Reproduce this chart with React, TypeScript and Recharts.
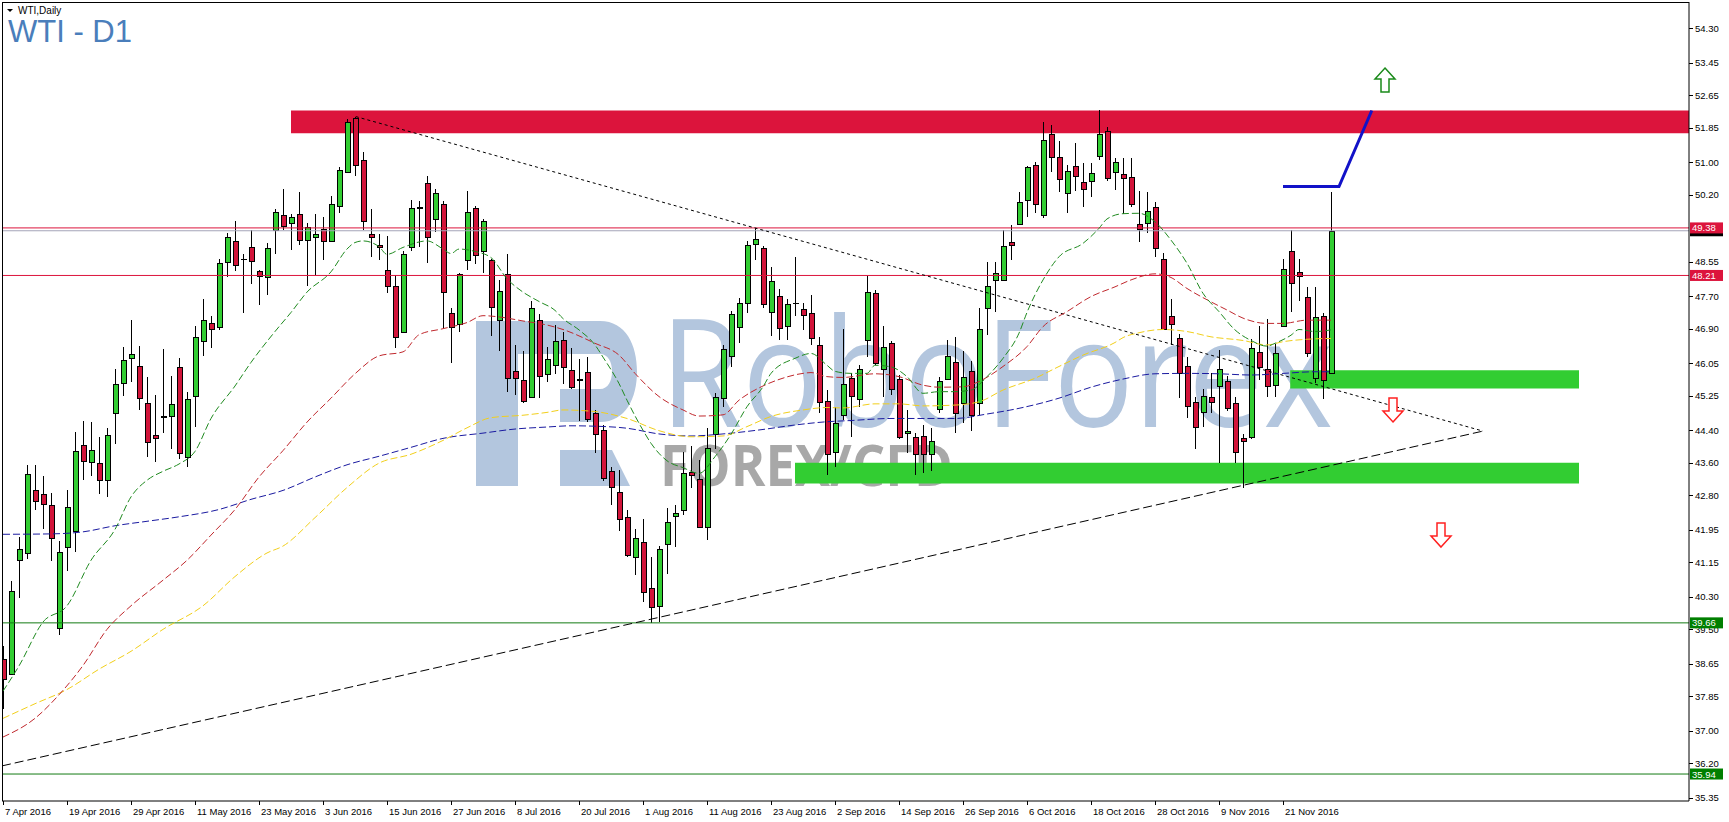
import React from "react";
import {
  ComposedChart,
  Bar,
  Line,
  XAxis,
  YAxis,
  ReferenceLine,
  ReferenceArea,
  ReferenceDot,
} from "recharts";

// daily bars, 7 Apr 2016 .. 30 Nov 2016 (index = bar number)
const opens = [
  38.78, 38.41, 41.2, 41.38, 42.92, 42.83, 42.56, 39.54, 41.53, 41.91,
  44.04, 43.63, 43.59, 43.17, 44.82, 45.56, 46.18, 45.98, 45.07, 44.28,
  44.74, 44.75, 45.95, 43.75, 45.24, 46.59, 47.04, 46.95, 48.53, 49.07,
  48.62, 48.91, 48.32, 48.17, 49.34, 49.7, 49.51, 49.73, 49.09, 49.15,
  49.36, 49.06, 49.92, 50.76, 52.08, 51.06, 49.23, 48.97, 48.34, 47.95,
  46.81, 48.92, 49.9, 50.48, 49.6, 49.98, 47.29, 47.02, 48.58, 49.88,
  48.8, 48.58, 47.12, 48.24, 45.86, 45.64, 45.22, 47.12, 45.79, 46.01,
  46.62, 45.88, 45.63, 45.83, 44.82, 44.41, 43.4, 42.89, 42.27, 41.27,
  41.66, 40.51, 40.08, 41.59, 42.29, 42.45, 43.38, 43.19, 42.03, 44.32,
  45.19, 46.23, 46.93, 47.54, 48.99, 48.88, 47.31, 47.71, 46.97, 47.54,
  47.38, 47.28, 46.49, 45.13, 43.87, 44.78, 45.68, 45.16, 46.62, 47.79,
  45.9, 46.54, 45.65, 44.33, 44.23, 44.27, 43.81, 44.92, 45.65, 46.09,
  45.06, 45.87, 45.06, 47.4, 48.1, 48.1, 49.04, 49.48, 50.07, 50.94,
  49.7, 51.69, 51.13, 50.25, 50.91, 50.5, 50.53, 51.15, 51.77, 50.76,
  50.7, 50.64, 49.47, 49.49, 49.9, 48.61, 47.2, 46.66, 45.99, 45.1,
  44.84, 45.23, 45.5, 45.62, 45.06, 44.22, 44.24, 46.32, 45.92, 45.51,
  46.97, 48.8, 48.3, 47.67, 45.68, 47.22, 45.8,
];
const highs = [
  39.1, 40.69, 41.78, 43.54, 43.54, 43.28, 42.85, 41.67, 42.94, 44.35,
  44.64, 44.61, 44.24, 44.46, 45.92, 46.45, 47.12, 46.47, 45.71, 45.27,
  46.4, 45.74, 46.18, 45.33, 46.97, 47.62, 47.22, 48.62, 49.26, 49.56,
  48.75, 49.34, 48.35, 49.01, 49.85, 50.33, 49.73, 50.27, 49.51, 49.73,
  49.66, 50.17, 50.89, 52.06, 52.12, 51.24, 49.84, 49.22, 49.19, 48.23,
  48.8, 50.06, 50.05, 50.65, 50.33, 50.05, 47.42, 48.26, 50.29, 49.92,
  49.61, 48.62, 48.11, 48.73, 46.49, 46.36, 47.57, 47.26, 46.44, 47.0,
  46.83, 46.42, 46.15, 46.2, 44.9, 44.53, 43.49, 43.42, 42.45, 41.96,
  42.21, 41.27, 41.56, 42.48, 42.56, 43.87, 44.01, 43.67, 44.45, 45.32,
  46.5, 47.34, 47.65, 49.06, 49.39, 48.94, 48.41, 47.87, 47.63, 48.66,
  47.52, 47.73, 46.7, 45.38, 44.98, 46.88, 45.82, 46.01, 48.2, 47.84,
  46.97, 46.6, 45.76, 44.91, 44.33, 44.53, 44.45, 45.7, 46.62, 46.69,
  46.34, 46.11, 47.4, 48.55, 48.55, 49.33, 49.45, 50.27, 50.9, 51.01,
  51.99, 51.91, 51.53, 50.93, 51.46, 50.97, 50.97, 52.28, 51.86, 51.09,
  51.09, 51.09, 50.29, 50.26, 50.03, 48.77, 47.62, 46.76, 46.21, 45.23,
  45.41, 45.8, 46.38, 45.73, 45.21, 44.31, 46.64, 46.97, 47.13, 46.52,
  48.61, 49.34, 48.61, 47.93, 47.92, 47.29, 50.27,
];
const lows = [
  37.53, 38.38, 40.26, 41.22, 42.43, 41.98, 41.18, 39.37, 40.93, 41.4,
  43.17, 43.27, 42.83, 42.76, 44.06, 45.25, 45.58, 44.89, 43.75, 43.61,
  44.33, 43.93, 43.7, 43.5, 44.49, 46.22, 46.42, 46.86, 48.17, 48.31,
  47.28, 47.99, 47.48, 47.74, 48.75, 49.33, 48.84, 48.95, 47.95, 48.21,
  48.58, 49.03, 49.75, 50.72, 50.66, 49.34, 48.66, 48.58, 47.78, 46.43,
  46.79, 48.82, 48.92, 48.52, 49.27, 46.92, 46.05, 46.81, 48.34, 48.5,
  48.26, 46.73, 46.36, 45.35, 45.28, 45.06, 45.19, 45.19, 45.58, 45.78,
  45.54, 45.41, 44.64, 44.61, 43.85, 43.14, 42.56, 41.91, 41.29, 40.84,
  40.18, 39.65, 39.69, 40.86, 41.52, 42.32, 42.99, 41.99, 41.7, 43.93,
  44.98, 45.95, 46.54, 47.29, 48.59, 47.42, 46.72, 46.62, 46.62, 47.21,
  46.87, 46.5, 44.82, 43.3, 43.5, 44.65, 44.24, 44.98, 46.21, 46.01,
  45.21, 45.27, 44.18, 43.85, 43.3, 43.35, 43.4, 44.82, 45.64, 44.34,
  44.59, 44.38, 44.78, 46.75, 47.32, 48.08, 48.59, 49.48, 49.66, 49.74,
  49.62, 50.76, 50.27, 49.74, 50.3, 49.89, 50.13, 51.05, 50.54, 50.31,
  49.72, 49.89, 49.04, 49.26, 48.66, 46.87, 46.5, 45.19, 44.69, 43.93,
  44.47, 44.83, 43.59, 44.88, 43.6, 42.97, 44.18, 45.64, 45.23, 45.23,
  46.93, 47.32, 47.59, 46.21, 45.57, 45.16, 45.79,
];
const closes = [
  38.29, 40.44, 41.49, 43.33, 42.67, 42.58, 41.75, 41.4, 42.51, 43.9,
  43.64, 43.92, 43.17, 44.28, 45.54, 46.12, 46.28, 45.2, 44.12, 44.21,
  44.73, 45.04, 43.84, 45.17, 46.7, 47.12, 46.9, 48.51, 49.16, 48.47,
  48.61, 48.57, 48.19, 48.89, 49.76, 49.42, 49.66, 49.09, 49.41, 49.22,
  49.06, 49.97, 50.81, 51.99, 50.94, 49.54, 49.15, 48.92, 47.95, 46.7,
  48.75, 49.86, 49.88, 49.16, 50.24, 47.81, 46.93, 48.24, 49.77, 48.71,
  49.55, 47.44, 47.82, 45.69, 45.69, 45.12, 47.42, 45.73, 46.16, 46.6,
  45.95, 45.47, 45.67, 44.67, 44.31, 43.22, 43.01, 42.21, 41.33, 41.76,
  40.43, 40.04, 41.47, 42.15, 42.36, 43.34, 43.29, 42.03, 43.96, 45.23,
  46.39, 47.25, 47.54, 48.95, 49.1, 47.51, 48.07, 46.91, 47.5, 47.52,
  47.24, 46.66, 45.1, 43.82, 44.59, 45.54, 45.24, 45.9, 47.81, 46.06,
  46.44, 45.41, 44.23, 44.38, 43.81, 43.81, 44.14, 45.62, 46.24, 44.83,
  45.72, 44.78, 46.9, 47.96, 48.26, 48.94, 48.96, 50.03, 50.87, 49.96,
  51.54, 51.13, 50.58, 50.79, 50.67, 50.33, 50.72, 51.69, 50.6, 51.0,
  50.6, 49.96, 49.35, 49.8, 48.88, 46.89, 47.01, 45.8, 45.0, 44.49,
  45.25, 45.1, 45.9, 44.94, 43.87, 44.14, 46.42, 45.95, 45.49, 46.31,
  48.36, 48.02, 48.2, 46.29, 47.18, 45.64, 49.31,
];

// one label every 8 bars
const dateLabels = [
  "7 Apr 2016", "19 Apr 2016", "29 Apr 2016", "11 May 2016", "23 May 2016",
  "3 Jun 2016", "15 Jun 2016", "27 Jun 2016", "8 Jul 2016", "20 Jul 2016",
  "1 Aug 2016", "11 Aug 2016", "23 Aug 2016", "2 Sep 2016", "14 Sep 2016",
  "26 Sep 2016", "6 Oct 2016", "18 Oct 2016", "28 Oct 2016", "9 Nov 2016",
  "21 Nov 2016",
];
const dateTicks = dateLabels.map((_, k) => k * 8);

const priceTicks = [
  54.3, 53.45, 52.65, 51.85, 51.0, 50.2, 48.55, 47.7, 46.9, 46.05, 45.25,
  44.4, 43.6, 42.8, 41.95, 41.15, 40.3, 39.5, 38.65, 37.85, 37.0, 36.2, 35.35,
];

// price labels drawn on the scale (bid first so the others cover it)
const tagValues = [49.31, 49.38, 48.21, 39.66, 35.94];
const tagColors = ["#000000", "#DC143C", "#DC143C", "#007F00", "#007F00"];
const tagTexts = ["", "49.38", "48.21", "39.66", "35.94"];

// moving averages: [bar, price]
const maFast = [
  [0, 37.98], [2, 38.6], [5, 39.68], [8, 40.08], [11, 41.2], [14, 41.96],
  [16, 42.76], [18, 43.17], [20, 43.39], [22, 43.57], [24, 43.88], [26, 44.69],
  [29, 45.49], [31, 46.07], [34, 46.83], [36, 47.3], [38, 47.8], [41, 48.3],
  [43, 48.86], [44, 49.02], [45, 49.06], [47, 48.92], [48, 48.73], [50, 48.9],
  [53, 49.06], [55, 48.86], [56, 48.75], [57, 48.86], [59, 48.8], [61, 48.65],
  [63, 48.13], [65, 47.8], [67, 47.57], [69, 47.35], [70, 47.15], [72, 46.87],
  [74, 46.5], [75, 46.2], [77, 45.55], [78, 45.14], [80, 44.4], [81, 44.08],
  [83, 43.65], [85, 43.48], [87, 43.34], [89, 43.75], [91, 44.3], [93, 44.98],
  [95, 45.47], [96, 45.8], [99, 46.17], [101, 46.29], [103, 46.0], [104, 45.85],
  [106, 45.8], [108, 45.8], [109, 46.0], [111, 45.96], [113, 45.72], [115, 45.31],
  [117, 45.35], [119, 45.35], [121, 45.39], [123, 45.72], [125, 46.17], [127, 46.79],
  [128, 47.3], [130, 48.1], [132, 48.67], [135, 49.0], [137, 49.37], [138, 49.6],
  [140, 49.73], [142, 49.74], [144, 49.53], [146, 49.08], [148, 48.51], [150, 47.77],
  [152, 47.32], [154, 46.87], [156, 46.61], [158, 46.47], [159, 46.54], [161, 46.74],
  [162, 46.88], [164, 46.83], [166, 46.87],
];
const maMid = [
  [0, 36.85], [4, 37.31], [7, 37.89], [10, 38.61], [13, 39.5], [16, 40.08],
  [20, 40.71], [23, 41.2], [26, 41.82], [29, 42.45], [32, 43.25], [35, 43.9],
  [38, 44.6], [41, 45.19], [44, 45.79], [47, 46.23], [50, 46.33], [52, 46.75],
  [55, 46.9], [58, 47.05], [60, 47.22], [62, 47.19], [65, 47.09], [68, 46.99],
  [70, 46.88], [74, 46.54], [77, 46.25], [79, 45.8], [82, 45.23], [85, 44.9],
  [87, 44.75], [90, 44.78], [92, 45.14], [95, 45.49], [97, 45.65], [100, 45.8],
  [101, 45.82], [103, 45.72], [105, 45.7], [109, 45.79], [112, 45.72], [115, 45.51],
  [117, 45.46], [120, 45.47], [122, 45.6], [125, 45.97], [128, 46.46], [130, 46.95],
  [133, 47.32], [136, 47.69], [139, 47.93], [141, 48.1], [144, 48.25], [146, 48.16],
  [148, 47.89], [151, 47.56], [153, 47.36], [155, 47.16], [158, 47.03], [160, 47.03],
  [163, 47.11], [166, 47.11],
];
const maSlow = [
  [0, 37.31], [4, 37.67], [8, 38.02], [12, 38.52], [16, 38.96], [20, 39.5],
  [25, 40.08], [29, 40.8], [33, 41.38], [35, 41.55], [39, 42.25], [43, 42.99],
  [47, 43.59], [51, 43.81], [55, 44.15], [58, 44.46], [61, 44.71], [65, 44.77],
  [68, 44.84], [70, 44.9], [74, 44.86], [78, 44.69], [82, 44.39], [86, 44.24],
  [90, 44.26], [93, 44.49], [96, 44.74], [100, 44.9], [103, 44.96], [105, 44.95],
  [109, 45.05], [112, 45.05], [115, 45.0], [119, 45.02], [122, 45.1], [125, 45.39],
  [129, 45.68], [132, 45.97], [135, 46.25], [139, 46.56], [140, 46.68], [142, 46.8],
  [145, 46.88], [148, 46.83], [151, 46.7], [155, 46.61], [158, 46.5], [160, 46.58],
  [163, 46.64], [166, 46.66],
];
const maLong = [
  [0, 41.84], [6, 41.85], [10, 41.9], [14, 42.05], [18, 42.16], [22, 42.27],
  [27, 42.45], [31, 42.7], [35, 42.92], [39, 43.25], [43, 43.55], [47, 43.76],
  [51, 43.98], [55, 44.2], [60, 44.33], [64, 44.43], [68, 44.48], [71, 44.51],
  [74, 44.5], [78, 44.45], [82, 44.31], [86, 44.26], [90, 44.31], [95, 44.42],
  [99, 44.53], [103, 44.61], [106, 44.64], [111, 44.69], [115, 44.69], [119, 44.69],
  [123, 44.8], [127, 44.94], [132, 45.19], [136, 45.46], [140, 45.66], [144, 45.79],
  [148, 45.8], [152, 45.79], [156, 45.76], [160, 45.8], [164, 45.84], [166, 45.84],
];

// projected move drawn in blue
const projection = [
  [160, 50.4], [167, 50.4], [171.1, 52.27],
];

const X_DOMAIN: [number, number] = [-0.125, 210.75];
const Y_DOMAIN: [number, number] = [35.276, 54.94];

const candles = opens.map((o, i) => ({
  i,
  o,
  h: highs[i],
  l: lows[i],
  c: closes[i],
  hl: [lows[i], highs[i]],
}));

const toSeries = (pts: number[][]) => pts.map(([i, v]) => ({ i, v }));

const Candle = (props: any) => {
  const { x, y, width, height, payload } = props;
  if (!payload || x == null) return null;
  const { o, h, l, c } = payload;
  const k = h > l ? height / (h - l) : 0;
  const py = (p: number) => y + (h - p) * k;
  const cx = Math.round(x + width / 2) + 0.5;
  const top = Math.round(py(Math.max(o, c))) + 0.5;
  const bot = Math.round(py(Math.min(o, c))) + 0.5;
  const up = c >= o;
  return (
    <g shapeRendering="crispEdges">
      <line x1={cx} x2={cx} y1={Math.round(y)} y2={Math.round(y + height)} stroke="#000" />
      {bot - top < 1 ? (
        <line x1={cx - 3} x2={cx + 3} y1={top} y2={top} stroke="#000" />
      ) : (
        <rect
          x={cx - 2.5}
          y={top}
          width={5}
          height={bot - top}
          fill={up ? "#32CD32" : "#D2143A"}
          stroke="#000"
        />
      )}
    </g>
  );
};

const PriceTick = (props: any) => {
  const { x, y, payload } = props;
  const v = payload.value;
  const t = tagValues.indexOf(v);
  if (t >= 0) {
    return (
      <g>
        <rect x={x - 5} y={y - 5.5} width={33} height={11} fill={tagColors[t]} />
        <text x={x - 3} y={y + 3.5} fill="#fff" fontSize={9.5} fontFamily="Liberation Sans, Arial, sans-serif">
          {tagTexts[t]}
        </text>
      </g>
    );
  }
  return (
    <g>
      <line x1={x - 6} x2={x - 2} y1={Math.round(y) + 0.5} y2={Math.round(y) + 0.5} stroke="#000" />
      <text x={x} y={y + 3.5} fill="#000" fontSize={9.5} fontFamily="Liberation Sans, Arial, sans-serif">
        {v.toFixed(2)}
      </text>
    </g>
  );
};

const DateTick = (props: any) => {
  const { x, y, payload } = props;
  const label = dateLabels[Math.round(payload.value / 8)];
  const px = Math.round(x) + 0.5;
  return (
    <g>
      <line x1={px} x2={px} y1={y - 4} y2={y} stroke="#000" />
      <text x={x + 2} y={y + 10} fill="#000" fontSize={9.5} fontFamily="Liberation Sans, Arial, sans-serif">
        {label}
      </text>
    </g>
  );
};

const arrowShape = (dir: number, color: string) => (props: any) => {
  const { cx, cy } = props;
  if (cx == null) return null;
  const s = dir;
  const pts = [
    [0, -12 * s], [10, -1 * s], [4, -1 * s], [4, 12 * s], [-4, 12 * s], [-4, -1 * s], [-10, -1 * s],
  ]
    .map(([a, b]) => `${cx + a},${cy + b}`)
    .join(" ");
  return <polygon points={pts} fill="#fff" stroke={color} strokeWidth={1.5} />;
};

const Watermark = () => (
  <svg width={1729} height={822} style={{ position: "absolute", left: 0, top: 0 }}>
    <g fill="#b3c6de">
      <path d="M476,321 H600 C626,321 637,345 637,371.5 C637,398 626,422 600,422 H560 V389 H600 C608,389 612,381 612,371.5 C612,362 608,354 600,354 H518 V486 H476 Z" />
      <path d="M560,450 H612 L630,486 H560 Z" />
      <text x={660} y={427} fontSize={150} textLength={673} lengthAdjust="spacingAndGlyphs" fontFamily="Open Sans, sans-serif">
        RoboForex
      </text>
    </g>
    <text x={660} y={486} fontSize={57} fontWeight={700} fill="#a8a8a8" textLength={293} lengthAdjust="spacingAndGlyphs" fontFamily="Open Sans, sans-serif">
      FOREX/CFD
    </text>
  </svg>
);

const Overlay = () => (
  <svg width={1729} height={822} style={{ position: "absolute", left: 0, top: 0, pointerEvents: "none" }}>
    <line x1={2.5} x2={2.5} y1={2} y2={801} stroke="#000" shapeRendering="crispEdges" />
    <line x1={2} x2={1689} y1={2.5} y2={2.5} stroke="#000" shapeRendering="crispEdges" />
    <polygon points="7,9 13,9 10,12" fill="#000" />
    <text x={18} y={14} fontSize={10} fill="#000" fontFamily="Liberation Sans, Arial, sans-serif">
      WTI,Daily
    </text>
    <text x={8} y={42} fontSize={31} fill="#4A7EBB" fontFamily="Liberation Sans, Arial, sans-serif">
      WTI - D1
    </text>
  </svg>
);

export default function App() {
  return (
    <div style={{ position: "absolute", left: 0, top: 0, width: 1729, height: 822, background: "#fff", overflow: "hidden" }}>
      <Watermark />
      <div style={{ position: "absolute", left: 0, top: 0 }}>
        <ComposedChart
          width={1729}
          height={822}
          data={candles}
          margin={{ top: 2, right: 0, bottom: 0, left: 2 }}
        >
          <XAxis
            dataKey="i"
            type="number"
            domain={X_DOMAIN}
            allowDataOverflow
            ticks={dateTicks}
            interval={0}
            height={21}
            tickSize={4}
            tickMargin={0}
            tickLine={false}
            axisLine={{ stroke: "#000" }}
            tick={<DateTick />}
          />
          <YAxis
            orientation="right"
            type="number"
            domain={Y_DOMAIN}
            allowDataOverflow
            ticks={[...priceTicks, ...tagValues]}
            interval={0}
            width={40}
            tickSize={4}
            tickMargin={2}
            tickLine={false}
            axisLine={{ stroke: "#000" }}
            tick={<PriceTick />}
          />
          <ReferenceArea x1={36} x2={210.75} y1={51.71} y2={52.27} fill="#DC143C" fillOpacity={1} stroke="none" />
          <ReferenceArea x1={160.9} x2={197} y1={45.43} y2={45.88} fill="#32CD32" fillOpacity={1} stroke="none" />
          <ReferenceArea x1={99} x2={197} y1={43.09} y2={43.6} fill="#32CD32" fillOpacity={1} stroke="none" />
          <ReferenceLine y={49.38} stroke="#DC143C" />
          <ReferenceLine y={49.31} stroke="#a4a4b8" />
          <ReferenceLine y={48.21} stroke="#DC143C" />
          <ReferenceLine y={39.66} stroke="#137a13" />
          <ReferenceLine y={35.94} stroke="#137a13" />
          <ReferenceLine
            segment={[{ x: 44.1, y: 52.12 }, { x: 185, y: 44.38 }]}
            stroke="#000"
            strokeDasharray="3 3"
          />
          <ReferenceLine
            segment={[{ x: -0.125, y: 36.14 }, { x: 185, y: 44.38 }]}
            stroke="#000"
            strokeDasharray="9 4"
          />
          <Line data={toSeries(maLong)} dataKey="v" type="monotone" stroke="#1a1aa0" strokeWidth={1} strokeDasharray="7 3" dot={false} isAnimationActive={false} />
          <Line data={toSeries(maSlow)} dataKey="v" type="monotone" stroke="#f2cf1a" strokeWidth={1} strokeDasharray="7 3" dot={false} isAnimationActive={false} />
          <Line data={toSeries(maMid)} dataKey="v" type="monotone" stroke="#c0282d" strokeWidth={1} strokeDasharray="7 3" dot={false} isAnimationActive={false} />
          <Line data={toSeries(maFast)} dataKey="v" type="monotone" stroke="#1f8a1f" strokeWidth={1} strokeDasharray="7 3" dot={false} isAnimationActive={false} />
          <Bar dataKey="hl" barSize={6} shape={<Candle />} isAnimationActive={false} />
          <Line data={toSeries(projection)} dataKey="v" type="linear" stroke="#1212c8" strokeWidth={3} dot={false} isAnimationActive={false} />
          <ReferenceDot x={172.75} y={53.02} r={0} shape={arrowShape(1, "#1a8a1a")} />
          <ReferenceDot x={173.75} y={44.9} r={0} shape={arrowShape(-1, "#ff2020")} />
          <ReferenceDot x={179.75} y={41.82} r={0} shape={arrowShape(-1, "#ff2020")} />
        </ComposedChart>
      </div>
      <Overlay />
    </div>
  );
}
